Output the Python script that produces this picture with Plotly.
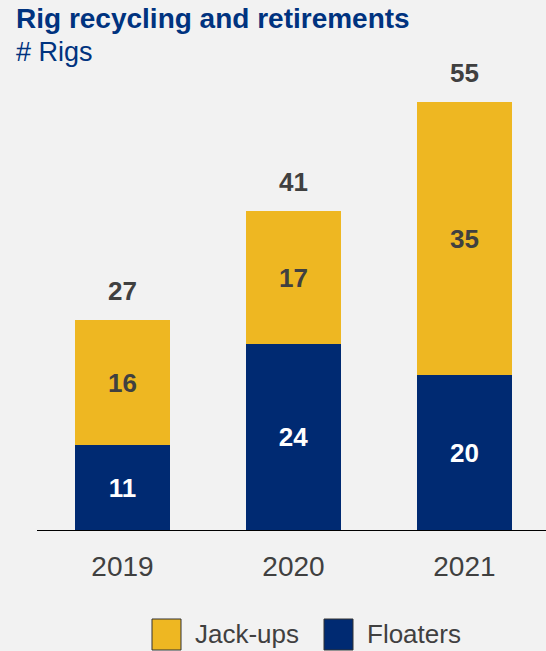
import plotly.graph_objects as go

years = ["2019", "2020", "2021"]
floaters = [11, 24, 20]
jackups = [16, 17, 35]
totals = [27, 41, 55]

NAVY = "#002a72"
GOLD = "#eeb722"
GRAY = "#404040"
BG = "#f2f2f2"
FONT = "Liberation Sans, Arial, sans-serif"

fig = go.Figure()
fig.add_trace(go.Bar(x=years, y=floaters, name="Floaters", marker=dict(color=NAVY, line=dict(width=0)),
                     text=[str(v) for v in floaters], textposition="inside", insidetextanchor="middle",
                     constraintext="none",
                     textfont=dict(color="white", size=26, family=FONT, weight="bold"), width=0.555))
fig.add_trace(go.Bar(x=years, y=jackups, name="Jack-ups", marker=dict(color=GOLD, line=dict(width=0)),
                     text=[str(v) for v in jackups], textposition="inside", insidetextanchor="middle",
                     constraintext="none",
                     textfont=dict(color=GRAY, size=26, family=FONT, weight="bold"), width=0.555))

# Total labels (category index used for position on category axis)
for i, t in enumerate(totals):
    fig.add_annotation(x=i, y=t, xref="x", yref="y", text="<b>%d</b>" % t, showarrow=False,
                       yanchor="middle", yshift=29,
                       font=dict(size=26, color=GRAY, family=FONT))

# Title
fig.add_annotation(xref="paper", yref="paper", x=-0.045, y=1.0, xanchor="left", yanchor="middle", yshift=42,
                   text="<b>Rig recycling and retirements</b>", showarrow=False,
                   font=dict(size=28, color="#00337f", family=FONT))
fig.add_annotation(xref="paper", yref="paper", x=-0.045, y=1.0, xanchor="left", yanchor="middle", yshift=8,
                   text="# Rigs", showarrow=False, font=dict(size=27, color="#00337f", family=FONT))

# Custom legend
legend_items = [("Jack-ups", GOLD, 152), ("Floaters", NAVY, 324)]
for label, col, px in legend_items:
    x0 = (px - 37) / 509
    x1 = (px + 29 - 37) / 509
    fig.add_shape(type="rect", xref="paper", yref="paper", x0=x0, x1=x1,
                  y0=-(650 - 531) / 471, y1=-(619 - 531) / 471,
                  fillcolor=col, line=dict(color="#333333", width=1))
    fig.add_annotation(xref="paper", yref="paper", x=(px + 41 - 37) / 509, y=-(634 - 531) / 471,
                       xanchor="left", yanchor="middle", text=label, showarrow=False,
                       font=dict(size=26, color=GRAY, family=FONT))

fig.update_layout(
    barmode="stack",
    width=546, height=651,
    margin=dict(l=37, r=0, t=60, b=120),
    paper_bgcolor=BG, plot_bgcolor=BG,
    showlegend=False,
    font=dict(family=FONT, color=GRAY),
    xaxis=dict(type="category", range=[-0.5, 2.477], showgrid=False, zeroline=False, showline=False,
               tickfont=dict(size=28, color=GRAY, family=FONT), ticks="", ticklabelstandoff=16),
    yaxis=dict(range=[0, 60.4], visible=False, showgrid=False),
)
fig.add_shape(type="line", xref="paper", yref="y", x0=0, x1=1, y0=0, y1=0,
              line=dict(color="black", width=2))

fig.write_html("out.html")
